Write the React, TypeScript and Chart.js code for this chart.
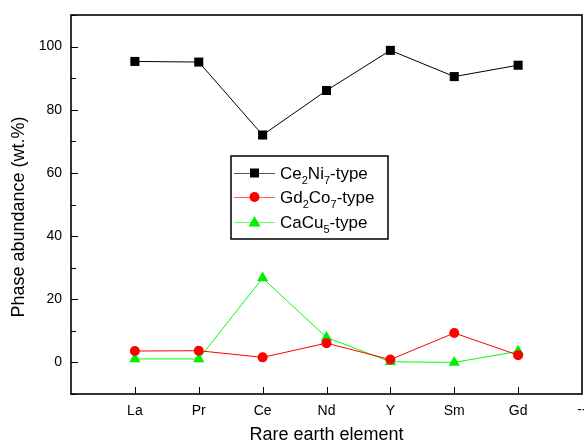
import React, { useEffect, useRef } from "react";
import { Chart, registerables } from "chart.js";

Chart.register(...registerables);

const categories = ["La", "Pr", "Ce", "Nd", "Y", "Sm", "Gd"];
const xTickLabels = ["", "La", "Pr", "Ce", "Nd", "Y", "Sm", "Gd", "--"];
const ce2ni7 = [95.3, 95.1, 72.0, 86.1, 98.8, 90.5, 94.1];
const gd2co7 = [3.6, 3.7, 1.6, 6.1, 0.9, 9.3, 2.3];
const cacu5 = [1.1, 1.1, 26.7, 7.9, 0.2, 0.0, 3.5];
const yMajorTicks = [0, 20, 40, 60, 80, 100];

const FONT = "'Liberation Sans', Arial, sans-serif";
const LAST = xTickLabels.length - 1;

const toPoints = (vals: number[]) => vals.map((y, i) => ({ x: i + 1, y }));

const legendItems = [
  { parts: [["Ce", 0], ["2", 1], ["Ni", 0], ["7", 1], ["-type", 0]], color: "#000000", line: "#555555", style: "rect" },
  { parts: [["Gd", 0], ["2", 1], ["Co", 0], ["7", 1], ["-type", 0]], color: "#ff0000", line: "#ff6060", style: "circle" },
  { parts: [["CaCu", 0], ["5", 1], ["-type", 0]], color: "#00ee00", line: "#60ff60", style: "triangle" },
];

const decorPlugin = {
  id: "decor",
  afterDraw(chart: any) {
    const ctx = chart.ctx as CanvasRenderingContext2D;
    const { left, right, top, bottom } = chart.chartArea;
    const xs = chart.scales.x;
    const ys = chart.scales.y;
    ctx.save();
    ctx.strokeStyle = "#000";
    ctx.lineWidth = 1;
    ctx.beginPath();
    for (let v = -10; v <= 110; v += 10) {
      const y = Math.round(ys.getPixelForValue(v)) + 0.5;
      const len = v % 20 === 0 ? 7 : 5;
      ctx.moveTo(left, y);
      ctx.lineTo(left + len, y);
    }
    for (let i = 1; i < LAST; i++) {
      const x = Math.round(xs.getPixelForValue(i)) + 0.5;
      ctx.moveTo(x, bottom);
      ctx.lineTo(x, bottom - 7);
    }
    ctx.stroke();
    ctx.lineWidth = 1.6;
    ctx.strokeRect(left, top, right - left, bottom - top);

    ctx.fillStyle = "#000";
    ctx.font = `14px ${FONT}`;
    ctx.textAlign = "center";
    ctx.textBaseline = "middle";
    ctx.fillText(xTickLabels[LAST], xs.getPixelForValue(LAST), 410);

    ctx.font = `18px ${FONT}`;
    ctx.fillText("Rare earth element", (left + right) / 2, 435);
    ctx.save();
    ctx.translate(19, 217);
    ctx.rotate(-Math.PI / 2);
    ctx.fillText("Phase abundance (wt.%)", 0, 0);
    ctx.restore();

    const bx = 231, by = 156, bw = 157, bh = 83;
    ctx.fillStyle = "#fff";
    ctx.fillRect(bx, by, bw, bh);
    ctx.lineWidth = 1.5;
    ctx.strokeStyle = "#000";
    ctx.strokeRect(bx, by, bw, bh);
    const rowY = [173, 197, 222];
    legendItems.forEach((it, idx) => {
      const y = rowY[idx];
      ctx.strokeStyle = it.line;
      ctx.lineWidth = 1;
      ctx.beginPath();
      ctx.moveTo(234, y + 0.5);
      ctx.lineTo(275, y + 0.5);
      ctx.stroke();
      ctx.fillStyle = it.color;
      ctx.beginPath();
      if (it.style === "rect") {
        ctx.rect(250, y - 4.5, 9, 9);
      } else if (it.style === "circle") {
        ctx.arc(254.5, y, 5, 0, Math.PI * 2);
      } else {
        ctx.moveTo(254.5, y - 6);
        ctx.lineTo(260.5, y + 4.5);
        ctx.lineTo(248.5, y + 4.5);
        ctx.closePath();
      }
      ctx.fill();
      let tx = 280;
      ctx.fillStyle = "#000";
      ctx.textAlign = "left";
      ctx.textBaseline = "alphabetic";
      (it.parts as any[]).forEach(([txt, sub]) => {
        if (sub) {
          ctx.font = `11px ${FONT}`;
          ctx.fillText(txt, tx, y + 11);
        } else {
          ctx.font = `17px ${FONT}`;
          ctx.fillText(txt, tx, y + 6);
        }
        tx += ctx.measureText(txt).width;
      });
    });
    ctx.restore();
  },
};

export default function App() {
  const ref = useRef<HTMLCanvasElement>(null);
  useEffect(() => {
    document.body.style.margin = "0";
    const chart = new Chart(ref.current as HTMLCanvasElement, {
      type: "line",
      data: {
        datasets: [
          { label: "Ce2Ni7-type", data: toPoints(ce2ni7), borderColor: "#000000", backgroundColor: "#000000", borderWidth: 1, pointStyle: "rect", pointRadius: 6.4, pointBorderWidth: 0, tension: 0 },
          { label: "Gd2Co7-type", data: toPoints(gd2co7), borderColor: "#ff0000", backgroundColor: "#ff0000", borderWidth: 1, pointStyle: "circle", pointRadius: 5, pointBorderWidth: 0, tension: 0 },
          { label: "CaCu5-type", data: toPoints(cacu5), borderColor: "#00ff00", backgroundColor: "#00ee00", borderWidth: 1, pointStyle: "triangle", pointRadius: 6.5, pointBorderWidth: 0, tension: 0 },
        ],
      },
      options: {
        responsive: false,
        animation: false,
        layout: { autoPadding: false, padding: { top: 15, right: 2, left: 0, bottom: 0 } },
        plugins: { legend: { display: false }, tooltip: { enabled: false } },
        scales: {
          x: {
            type: "linear", min: 0, max: LAST,
            grid: { display: false, drawTicks: false },
            border: { display: false },
            ticks: {
              stepSize: 1, autoSkip: false, maxRotation: 0, padding: 9, color: "#000",
              font: { family: FONT, size: 14 },
              callback: (v: any) => (v === LAST ? "" : xTickLabels[v] ?? ""),
            },
            afterFit: (s: any) => { s.height = 50; s.paddingLeft = 0; s.paddingRight = 0; },
          },
          y: {
            min: -10, max: 110,
            grid: { display: false, drawTicks: false },
            border: { display: false },
            afterBuildTicks: (s: any) => { s.ticks = yMajorTicks.map((v) => ({ value: v })); },
            ticks: { padding: 9, color: "#000", font: { family: FONT, size: 14 } },
            afterFit: (s: any) => { s.width = 71; s.paddingTop = 0; s.paddingBottom = 0; },
          },
        },
      },
      plugins: [decorPlugin],
    } as any);
    return () => chart.destroy();
  }, []);
  return (
    <div style={{ width: 584, height: 444 }}>
      <canvas ref={ref} width={584} height={444} style={{ display: "block" }} />
    </div>
  );
}

void categories;
